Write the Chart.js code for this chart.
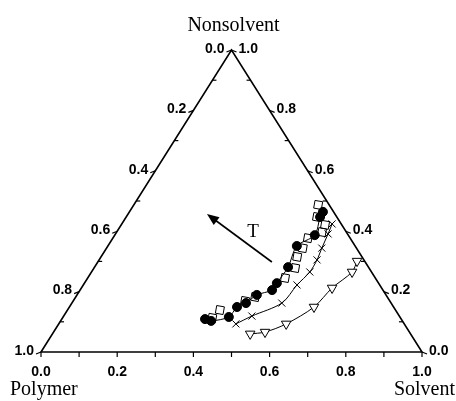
<!DOCTYPE html>
<html>
<head>
<meta charset="utf-8">
<script src="https://cdn.jsdelivr.net/npm/chart.js@4.4.1/dist/chart.umd.min.js"></script>
<style>
    html, body { margin: 0; padding: 0; background: #fff; }
    #wrap { width: 456px; height: 401px; }
</style>
</head>
<body>
<div id="wrap"><canvas id="ternary"></canvas></div>
<script>
// composition fractions for each temperature series (solvent, nonsolvent); polymer = 1 - s - n
const circleSolvent = [0.376, 0.395, 0.435, 0.440, 0.457, 0.472, 0.504, 0.505, 0.508, 0.496, 0.525, 0.509, 0.508];
const circleNonsolvent = [0.109, 0.103, 0.116, 0.149, 0.162, 0.189, 0.205, 0.228, 0.281, 0.351, 0.387, 0.447, 0.464];

const squareSolvent = [0.393, 0.400, 0.451, 0.471, 0.518, 0.528, 0.515, 0.515, 0.512, 0.539, 0.535, 0.501, 0.484];
const squareNonsolvent = [0.113, 0.139, 0.169, 0.182, 0.245, 0.278, 0.315, 0.344, 0.377, 0.397, 0.421, 0.447, 0.487];

const crossSolvent = [0.465, 0.494, 0.551, 0.561, 0.573, 0.572, 0.565, 0.558, 0.552];
const crossNonsolvent = [0.093, 0.119, 0.162, 0.222, 0.265, 0.305, 0.344, 0.391, 0.424];

const triSolvent = [0.519, 0.555, 0.597, 0.642, 0.658, 0.684, 0.679];
const triNonsolvent = [0.060, 0.066, 0.093, 0.149, 0.212, 0.265, 0.301];

const tickValues = [0, 0.2, 0.4, 0.6, 0.8, 1.0];
const minorTicks = [0.1, 0.3, 0.5, 0.7, 0.9];

// ternary -> cartesian (solvent along the base, nonsolvent up to the apex)
function toXY(s, n) {
    return { x: s + n * 0.5, y: n };
}

function points(sArr, nArr) {
    return sArr.map((s, i) => toXY(s, nArr[i]));
}

const ternaryFrame = {
    id: 'ternaryFrame',
    afterDatasetsDraw(chart) {
        const ctx = chart.ctx;
        const xs = chart.scales.x, ys = chart.scales.y;
        const px = (s, n) => {
            const p = toXY(s, n);
            return [xs.getPixelForValue(p.x), ys.getPixelForValue(p.y)];
        };

        ctx.save();
        ctx.strokeStyle = '#000';
        ctx.fillStyle = '#000';
        ctx.lineWidth = 1.6;

        // triangle
        const P = px(0, 0), S = px(1, 0), N = px(0, 1);
        ctx.beginPath();
        ctx.moveTo(P[0], P[1]);
        ctx.lineTo(S[0], S[1]);
        ctx.lineTo(N[0], N[1]);
        ctx.closePath();
        ctx.stroke();

        ctx.lineWidth = 1.2;
        ctx.font = 'bold 14px "Liberation Sans", Arial, sans-serif';

        // base: solvent fraction
        ctx.textAlign = 'center';
        ctx.textBaseline = 'top';
        tickValues.concat(minorTicks).forEach(v => {
            const [x, y] = px(v, 0);
            ctx.beginPath();
            ctx.moveTo(x, y);
            ctx.lineTo(x, y + 5);
            ctx.stroke();
        });
        tickValues.forEach(v => {
            const [x, y] = px(v, 0);
            ctx.fillText(v.toFixed(1), x, y + 13);
        });

        // left edge: polymer fraction (0 at apex, 1 at polymer corner)
        ctx.textAlign = 'right';
        ctx.textBaseline = 'middle';
        tickValues.forEach(v => {
            const [x, y] = px(0, 1 - v);
            ctx.beginPath();
            ctx.moveTo(x, y);
            ctx.lineTo(x - 5, y + 2);
            ctx.stroke();
            ctx.fillText(v.toFixed(1), x - 7, y - 1);
        });
        minorTicks.forEach(v => {
            const [x, y] = px(0, 1 - v);
            ctx.beginPath();
            ctx.moveTo(x, y);
            ctx.lineTo(x + 4, y);
            ctx.stroke();
        });

        // right edge: nonsolvent fraction (1 at apex, 0 at solvent corner)
        ctx.textAlign = 'left';
        tickValues.forEach(v => {
            const [x, y] = px(1 - v, v);
            ctx.beginPath();
            ctx.moveTo(x, y);
            ctx.lineTo(x + 5, y + 2);
            ctx.stroke();
            ctx.fillText(v.toFixed(1), x + 7, y - 1);
        });
        minorTicks.forEach(v => {
            const [x, y] = px(1 - v, v);
            ctx.beginPath();
            ctx.moveTo(x, y);
            ctx.lineTo(x - 4, y);
            ctx.stroke();
        });

        // corner names
        ctx.font = '20px "Liberation Serif", "Times New Roman", serif';
        ctx.textBaseline = 'alphabetic';
        ctx.textAlign = 'center';
        ctx.fillText('Nonsolvent', N[0] + 2, N[1] - 19);
        ctx.textAlign = 'left';
        ctx.fillText('Polymer', P[0] - 31, P[1] + 43);
        ctx.textAlign = 'right';
        ctx.fillText('Solvent', S[0] + 33, S[1] + 43);

        // temperature arrow
        const a = px(0.457, 0.298), b = px(0.207, 0.457);
        const ang = Math.atan2(b[1] - a[1], b[0] - a[0]);
        ctx.lineWidth = 1.6;
        ctx.beginPath();
        ctx.moveTo(a[0], a[1]);
        ctx.lineTo(b[0] - 8 * Math.cos(ang), b[1] - 8 * Math.sin(ang));
        ctx.stroke();
        ctx.beginPath();
        ctx.moveTo(b[0], b[1]);
        ctx.lineTo(b[0] - 13 * Math.cos(ang - 0.38), b[1] - 13 * Math.sin(ang - 0.38));
        ctx.lineTo(b[0] - 13 * Math.cos(ang + 0.38), b[1] - 13 * Math.sin(ang + 0.38));
        ctx.closePath();
        ctx.fill();

        const t = px(0.356, 0.401);
        ctx.font = '19px "Liberation Serif", "Times New Roman", serif';
        ctx.textAlign = 'center';
        ctx.textBaseline = 'middle';
        ctx.fillText('T', t[0], t[1] + 1);

        ctx.restore();
    }
};

const whiteBg = {
    id: 'whiteBg',
    beforeDraw(chart) {
        const ctx = chart.ctx;
        ctx.save();
        ctx.fillStyle = '#fff';
        ctx.fillRect(0, 0, chart.width, chart.height);
        ctx.restore();
    }
};

new Chart(document.getElementById('ternary'), {
    type: 'scatter',
    data: {
        datasets: [
            {
                label: 'circles',
                data: points(circleSolvent, circleNonsolvent),
                pointStyle: 'circle',
                pointRadius: 4.5,
                backgroundColor: '#000',
                borderColor: '#000',
                borderWidth: 1,
                showLine: true,
                tension: 0.3
            },
            {
                label: 'squares',
                data: points(squareSolvent, squareNonsolvent),
                pointStyle: 'rect',
                pointRadius: 5.5,
                pointRotation: 10,
                backgroundColor: 'rgba(255,255,255,0)',
                borderColor: '#000',
                borderWidth: 1,
                showLine: false
            },
            {
                label: 'crosses',
                data: points(crossSolvent, crossNonsolvent),
                pointStyle: 'crossRot',
                pointRadius: 5,
                borderColor: '#000',
                borderWidth: 1,
                showLine: true,
                tension: 0.3
            },
            {
                label: 'triangles',
                data: points(triSolvent, triNonsolvent),
                pointStyle: 'triangle',
                pointRotation: 180,
                pointRadius: 5.5,
                backgroundColor: '#fff',
                borderColor: '#000',
                borderWidth: 1,
                showLine: true,
                tension: 0.3
            }
        ]
    },
    options: {
        responsive: true,
        maintainAspectRatio: false,
        animation: false,
        layout: { padding: { left: 41, right: 34, top: 50, bottom: 49 } },
        scales: {
            x: { type: 'linear', min: 0, max: 1, display: false },
            y: { type: 'linear', min: 0, max: 1, display: false }
        },
        plugins: {
            legend: { display: false },
            tooltip: { enabled: false }
        }
    },
    plugins: [whiteBg, ternaryFrame]
});
</script>
</body>
</html>
